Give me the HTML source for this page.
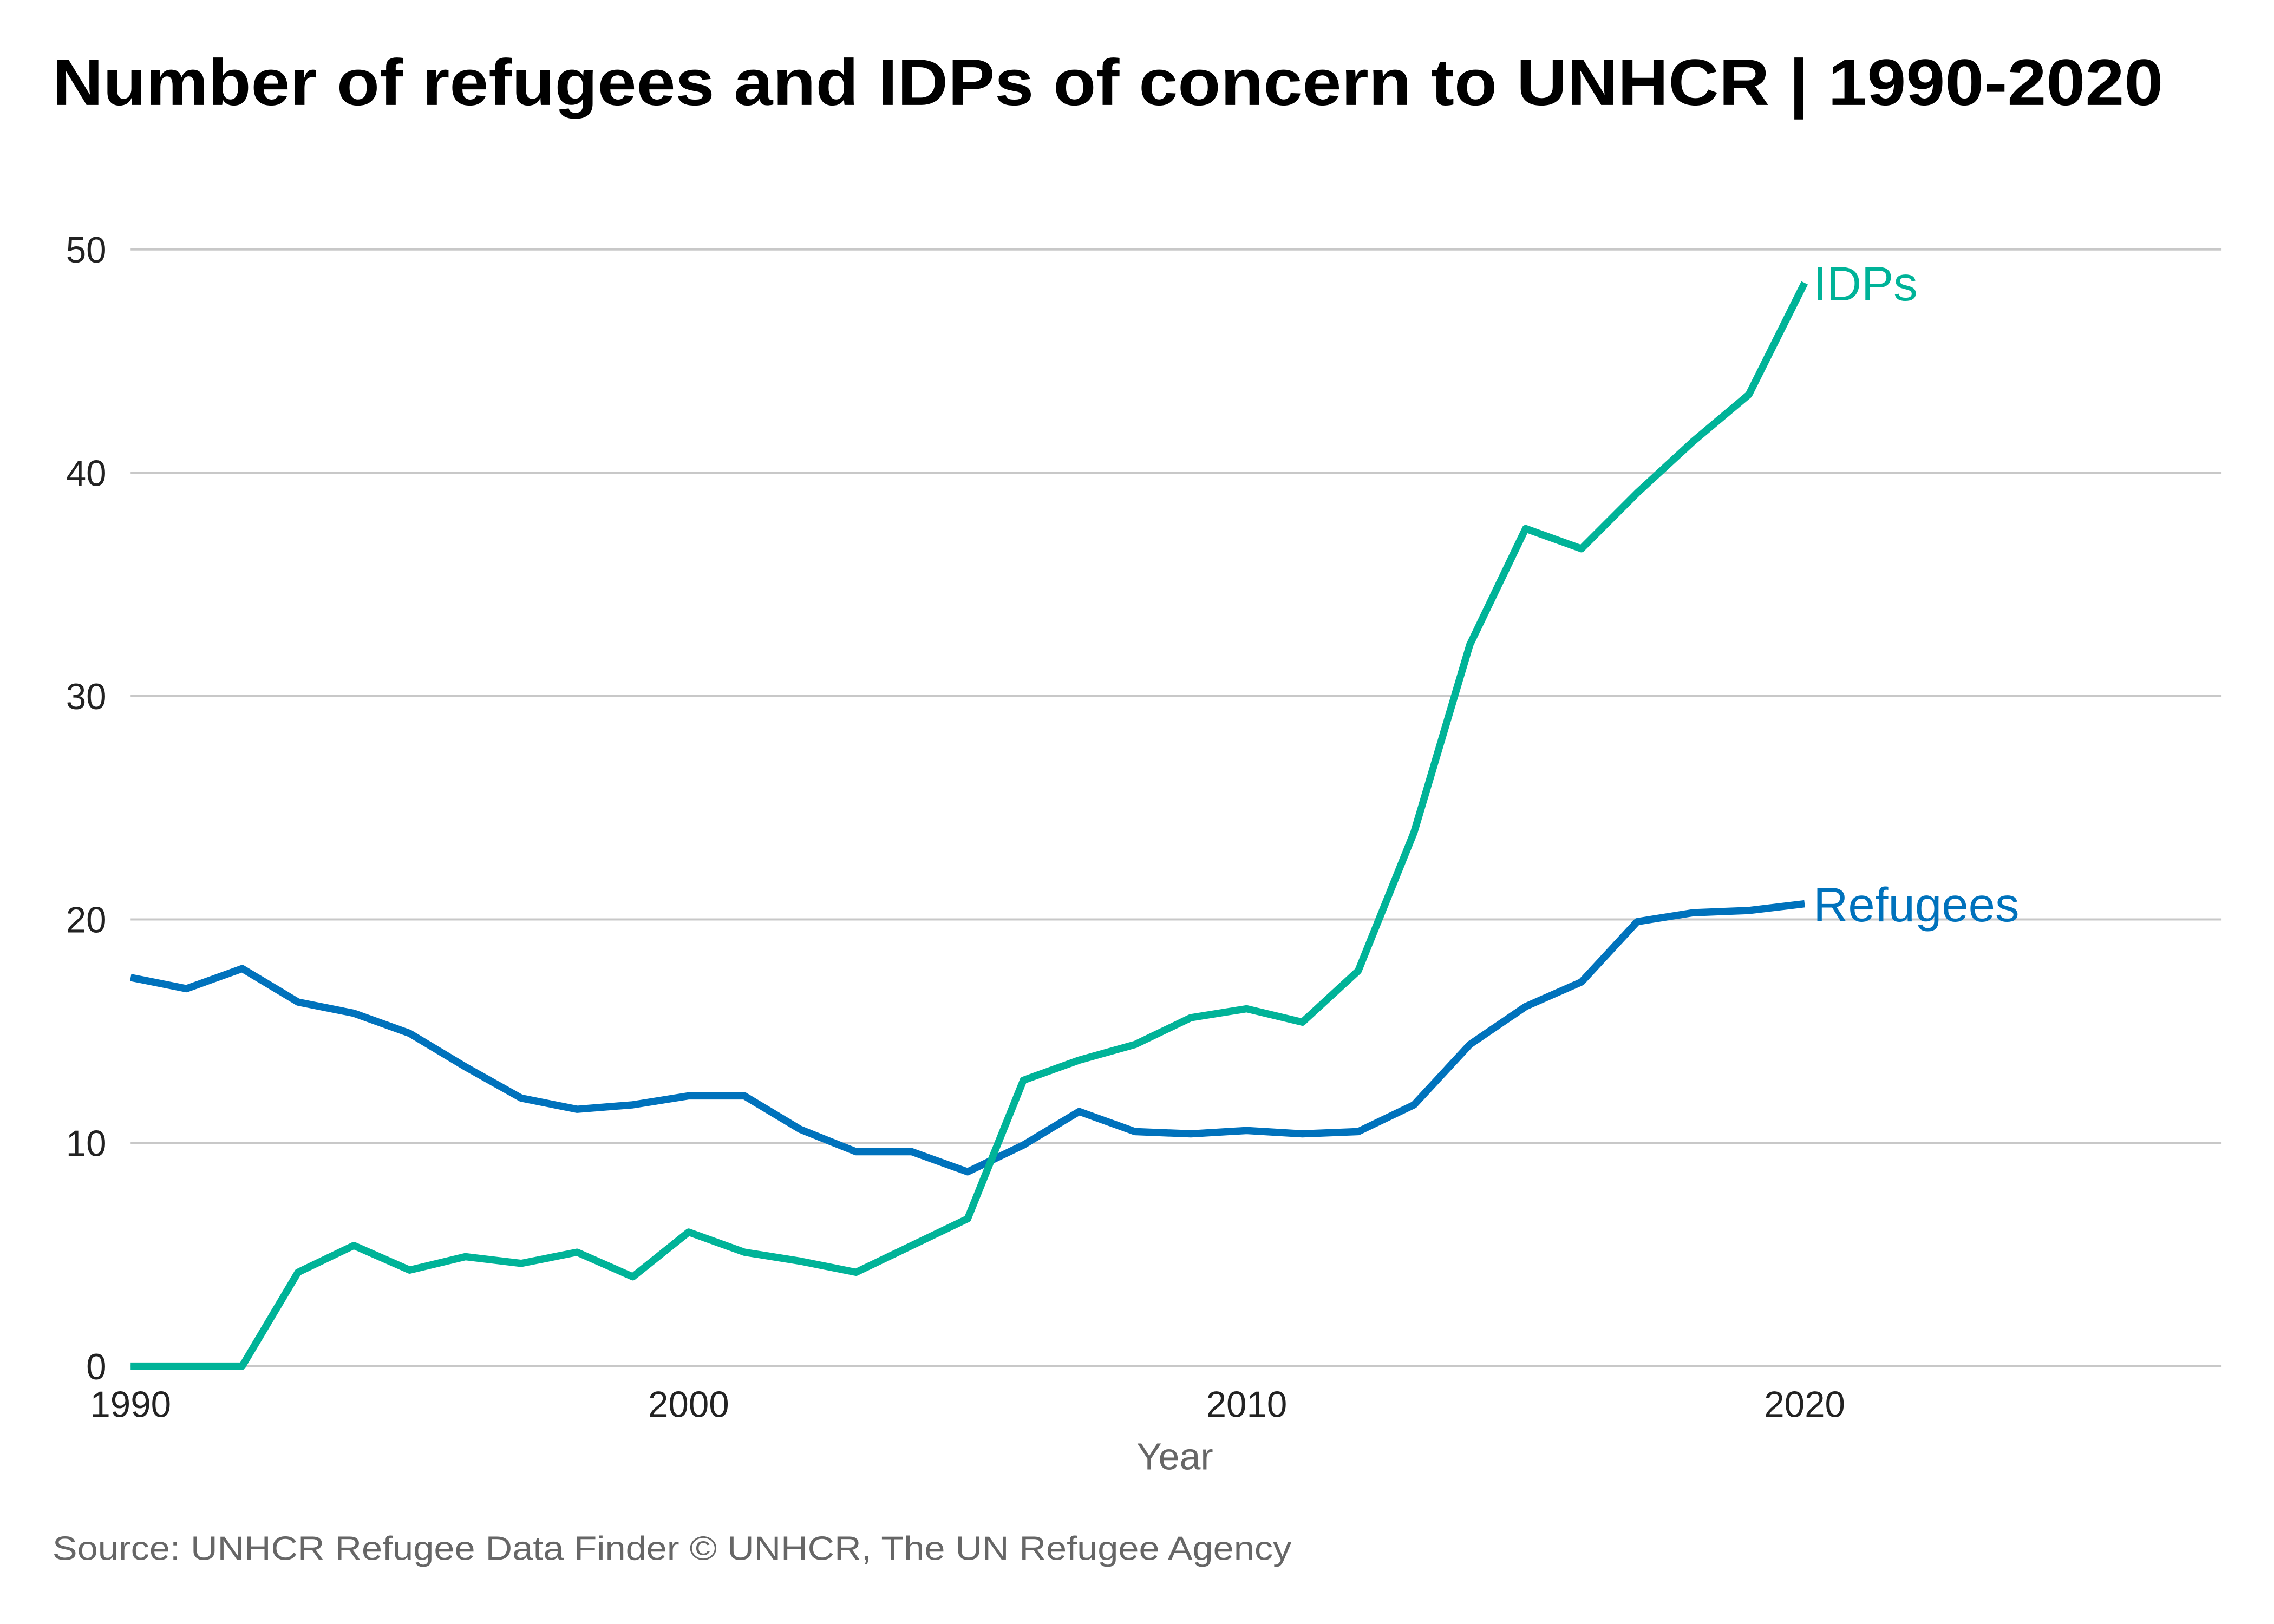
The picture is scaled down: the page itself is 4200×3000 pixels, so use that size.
<!DOCTYPE html>
<html><head><meta charset="utf-8"><style>
html,body{margin:0;padding:0;background:#fff;}
svg{display:block;font-family:"Liberation Sans",sans-serif;}
</style></head><body>
<svg id="chart" width="4200" height="3000" viewBox="0 0 1560 1114" preserveAspectRatio="none" xmlns="http://www.w3.org/2000/svg">
<text x="36" y="72" font-size="45" font-weight="bold" fill="#000" textLength="1448" lengthAdjust="spacingAndGlyphs">Number of refugees and IDPs of concern to UNHCR | 1990-2020</text>
<g id="grid"></g><g id="xticks"></g><g id="lines"></g>
<text x="806" y="1008" font-size="26" fill="#666" text-anchor="middle">Year</text>
<text x="36" y="1070" font-size="23" fill="#666" textLength="850" lengthAdjust="spacingAndGlyphs">Source: UNHCR Refugee Data Finder © UNHCR, The UN Refugee Agency</text>
</svg>
<script>
const years = [1990,1991,1992,1993,1994,1995,1996,1997,1998,1999,2000,2001,2002,2003,2004,2005,2006,2007,2008,2009,2010,2011,2012,2013,2014,2015,2016,2017,2018,2019,2020];
const refugees = [17.4,16.9,17.8,16.3,15.8,14.9,13.4,12.0,11.5,11.7,12.1,12.1,10.6,9.6,9.6,8.7,9.9,11.4,10.5,10.4,10.55,10.4,10.5,11.7,14.4,16.1,17.2,19.9,20.3,20.4,20.7];
const idps = [0,0,0,4.2,5.4,4.3,4.9,4.6,5.1,4.0,6.0,5.1,4.7,4.2,5.4,6.6,12.8,13.7,14.4,15.6,16.0,15.4,17.7,23.9,32.3,37.5,36.6,39.1,41.4,43.5,48.5];
const yTicks = [0,10,20,30,40,50];
const xTicks = [1990,2000,2010,2020];
const NS="http://www.w3.org/2000/svg";
const X = y => 89.6 + (y-1990)*38.28;
const Y = v => 937.1 - v*15.32;
function mk(tag, attrs, parent){const e=document.createElementNS(NS,tag);for(const k in attrs)e.setAttribute(k,attrs[k]);parent.appendChild(e);return e;}
const grid=document.getElementById('grid');
yTicks.forEach(t=>{
  const l=mk('line',{x1:89.6,x2:1524,y1:Y(t),y2:Y(t),stroke:'#c8c8c8','stroke-width':1.5},grid);
  
  
  const tx=mk('text',{x:73,y:Y(t)+9,'font-size':25,fill:'#222','text-anchor':'end'},grid);
  tx.textContent=t;
  
  
});
const xt=document.getElementById('xticks');
xTicks.forEach(t=>{
  const tx=mk('text',{x:X(t),y:972,'font-size':25,fill:'#222','text-anchor':'middle'},xt);
  tx.textContent=t;
  
  
});
const lines=document.getElementById('lines');
function series(vals,color,name,label){
  const p=mk('polyline',{points:vals.map((v,i)=>X(years[i])+','+Y(v)).join(' '),fill:'none',stroke:color,'stroke-width':5,'stroke-linejoin':'round'},lines);
  
  
  const last=vals[vals.length-1];
  const t=mk('text',{x:X(years[years.length-1])+6,y:Y(last)+12,'font-size':33,fill:color},lines);
  t.textContent=label;
  
  
}
series(refugees,'#0072bc','refugees','Refugees');
series(idps,'#00b398','idps','IDPs');
</script>
</body></html>
